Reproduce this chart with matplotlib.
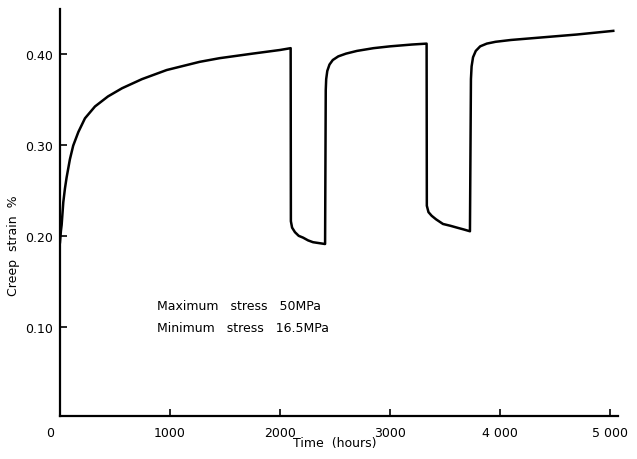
import matplotlib.pyplot as plt

# time (hours) and creep strain (%)
t = [0, 8, 15, 30, 45, 60, 90, 120, 167, 227, 318, 436, 564, 745, 970,
     1270, 1450, 1750, 2000, 2097,
     2099, 2110, 2136, 2170, 2210, 2255, 2300, 2355, 2410,
     2416, 2420, 2430, 2450, 2480, 2530, 2600, 2700, 2850, 3000, 3200, 3333,
     3335, 3350, 3379, 3420, 3482, 3550, 3609, 3670, 3727,
     3736, 3742, 3755, 3780, 3820, 3880, 3960, 4100, 4400, 4700, 5030]
strain = [0.193, 0.205, 0.212, 0.237, 0.252, 0.264, 0.284, 0.299, 0.314, 0.329,
          0.342, 0.353, 0.362, 0.372, 0.382,
          0.391, 0.395, 0.400, 0.404, 0.406,
          0.216, 0.209, 0.204, 0.200, 0.198, 0.195, 0.193, 0.192, 0.191,
          0.360, 0.372, 0.381, 0.388, 0.393, 0.397, 0.400, 0.403, 0.406, 0.408, 0.410, 0.411,
          0.233, 0.226, 0.222, 0.218, 0.213, 0.211, 0.209, 0.207, 0.205,
          0.372, 0.386, 0.396, 0.403, 0.408, 0.411, 0.413, 0.415, 0.418, 0.421, 0.425]

xticks = [1000, 2000, 3000, 4000, 5000]
xtick_labels = ["1000", "2000", "3000", "4 000", "5 000"]
yticks = [0.10, 0.20, 0.30, 0.40]
ytick_labels = ["0.10", "0.20", "0.30", "0.40"]

fig = plt.figure(figsize=(6.37, 4.60), dpi=100)
ax = fig.add_axes([60 / 637, 1 - 417 / 460, 558 / 637, 407 / 460])

ax.plot(t, strain, color="black", lw=1.8, solid_joinstyle="round")

ax.set_xlim(0, 5073)
ax.set_ylim(0.0022, 0.449)
ax.spines["top"].set_visible(False)
ax.spines["right"].set_visible(False)
ax.spines["left"].set_linewidth(1.6)
ax.spines["bottom"].set_linewidth(1.6)

ax.set_xticks(xticks)
ax.set_xticklabels(xtick_labels)
ax.set_yticks(yticks)
ax.set_yticklabels(ytick_labels)
ax.tick_params(direction="in", length=5, width=1.2, labelsize=9)
ax.tick_params(axis="x", pad=7)
ax.tick_params(axis="y", pad=5)

# the lone "0" at the origin sits left of the axis
ax.text(-90, -0.025, "0", transform=ax.get_xaxis_transform(),
        ha="center", va="top", fontsize=9)

fig.text(14 / 637, 1 - 246 / 460, "Creep  strain  %", rotation=90,
         ha="center", va="center", fontsize=9)
fig.text(335 / 637, 1 - 444 / 460, "Time  (hours)", ha="center", va="center", fontsize=9)

fig.text(157 / 637, 1 - 306 / 460, "Maximum   stress   50MPa", ha="left", va="center", fontsize=9)
fig.text(157 / 637, 1 - 329 / 460, "Minimum   stress   16.5MPa", ha="left", va="center", fontsize=9)

fig.savefig("out.png", dpi=100)
